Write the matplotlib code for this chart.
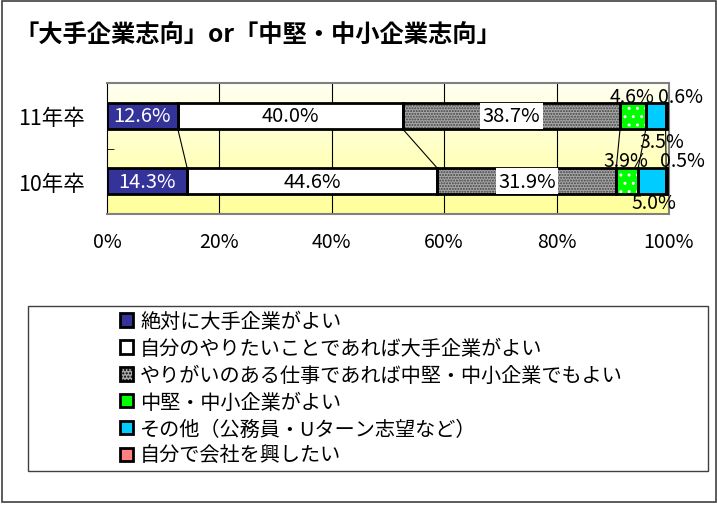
import numpy as np
import matplotlib.pyplot as plt
from matplotlib.patches import Rectangle, Patch

plt.rcParams['font.family'] = ['Noto Sans CJK JP', 'DejaVu Sans']
plt.rcParams['hatch.linewidth'] = 1.0

title = '「大手企業志向」or「中堅・中小企業志向」'
years = ['10年卒', '11年卒']
series = ['絶対に大手企業がよい',
          '自分のやりたいことであれば大手企業がよい',
          'やりがいのある仕事であれば中堅・中小企業でもよい',
          '中堅・中小企業がよい',
          'その他（公務員・Uターン志望など）',
          '自分で会社を興したい']
vals_10 = [14.3, 44.6, 31.9, 3.9, 5.0, 0.5]
vals_11 = [12.6, 40.0, 38.7, 4.6, 3.5, 0.6]
x_ticks = [0, 20, 40, 60, 80, 100]

colors = ['#333399', '#FFFFFF', '#A8A8A8', '#00FF00', '#00CCFF', '#FF8080']
hatches = [None, None, '......', '..', None, None]
hatch_colors = [None, None, '#404040', '#FFFFFF', None, None]

fig = plt.figure(figsize=(7.17, 5.06), dpi=100)
ax = fig.add_axes([0.1492, 0.575, 0.7838, 0.259])

# yellow gradient plot area
grad = np.linspace(0, 1, 256)[:, None]
top = np.array([1.0, 1.0, 0.6])
bot = np.array([1.0, 1.0, 0.95])
img = top * (1 - grad) + bot * grad
ax.imshow(img.reshape(256, 1, 3), extent=[0, 100, 1.5, -0.5], aspect='auto', zorder=0)

for x in x_ticks[1:-1]:
    ax.axvline(x, color='black', lw=0.8, zorder=1)

bh = 0.4
data = np.array([vals_10, vals_11])
norm = data / data.sum(axis=1, keepdims=True) * 100
lefts = np.cumsum(norm, axis=1) - norm

for i in range(len(series)):
    for r in range(2):
        ax.barh(r, norm[r, i], left=lefts[r, i], height=bh, color=colors[i],
                edgecolor='none', zorder=2)
        if hatches[i]:
            ax.barh(r, norm[r, i], left=lefts[r, i], height=bh, color='none',
                    edgecolor=hatch_colors[i], hatch=hatches[i], lw=0, zorder=3)
        ax.barh(r, norm[r, i], left=lefts[r, i], height=bh, color='none',
                edgecolor='black', lw=2, zorder=4)

# series lines between the bars
cum = np.cumsum(norm, axis=1)
for i in range(len(series) - 1):
    ax.plot([cum[1, i], cum[0, i]], [1 - bh / 2, bh / 2], color='black', lw=0.8, zorder=2)

# labels inside the large segments
for r, vals in enumerate([vals_10, vals_11]):
    for i in range(3):
        cx = lefts[r, i] + norm[r, i] / 2
        kw = {}
        if i == 2:
            kw['bbox'] = dict(boxstyle='square,pad=0.12', fc='white', ec='none')
        ax.text(cx, r, f'{vals[i]:.1f}%', ha='center', va='center', fontsize=14.5,
                color='white' if i == 0 else 'black', zorder=6, **kw)

# small segment labels placed outside the bars
small = [(1, 3, -0.2, 1.30), (1, 5, 2.3, 1.30), (1, 4, 1.1, 0.60),
         (0, 3, -0.2, 0.31), (0, 5, 2.7, 0.31), (0, 4, 0.3, -0.32)]
for r, i, dx, y in small:
    v = (vals_10, vals_11)[r][i]
    cx = lefts[r, i] + norm[r, i] / 2 + dx
    ax.text(cx, y, f'{v:.1f}%', ha='center', va='center', fontsize=14,
            zorder=6, clip_on=False)

ax.set_xlim(0, 100)
ax.set_ylim(-0.5, 1.5)
ax.set_xticks(x_ticks)
ax.set_xticklabels([f'{x}%' for x in x_ticks], fontsize=14)
ax.tick_params(axis='x', length=0, pad=12)
ax.set_yticks([0, 1])
ax.set_yticklabels(years, fontsize=15.5)
ax.set_yticks([-0.5, 0.5, 1.5], minor=True)
ax.tick_params(axis='y', which='major', length=0, pad=16)
ax.tick_params(axis='y', which='minor', length=5, direction='in', color='black')
for s in ['top', 'right', 'bottom']:
    ax.spines[s].set_color('#808080')
    ax.spines[s].set_linewidth(1.5)
ax.spines['left'].set_color('black')

fig.text(14 / 717, 0.929, title, fontsize=17.5, fontweight='bold', ha='left', va='center')

# legend box and entries
fig.add_artist(Rectangle((28 / 717, 0.0672), 680 / 717, 0.326, transform=fig.transFigure,
                         fill=False, ec='#404040', lw=1))
handles = []
for i in range(len(series)):
    handles.append(Patch(facecolor=colors[i], edgecolor='black', lw=2,
                         hatch='.....' if i == 2 else None))
fig.legend(handles, series, loc='upper left', bbox_to_anchor=(120 / 717, 0.383),
           frameon=False, fontsize=14.5, handlelength=0.65, handleheight=0.65,
           handletextpad=0.35, labelspacing=0.29, borderpad=0, borderaxespad=0)

fig.add_artist(Rectangle((0.003, 0.006), 0.995, 0.99, transform=fig.transFigure,
                         fill=False, ec='#404040', lw=1.2))

fig.savefig('out.png', dpi=100)
